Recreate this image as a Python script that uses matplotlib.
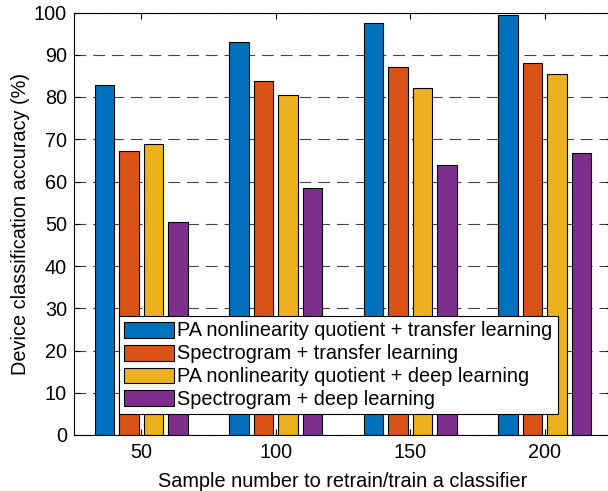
import matplotlib.pyplot as plt
import numpy as np

plt.rcParams['font.family'] = ['Liberation Sans', 'DejaVu Sans']
plt.rcParams['lines.scale_dashes'] = False

# Accuracy (%) for each training-set size
sample_numbers = [50, 100, 150, 200]
pa_transfer = [82.8, 92.9, 97.5, 99.4]
spec_transfer = [67.2, 83.7, 87.1, 88.0]
pa_deep = [68.8, 80.5, 82.1, 85.4]
spec_deep = [50.4, 58.4, 63.9, 66.7]

series = [pa_transfer, spec_transfer, pa_deep, spec_deep]
labels = ['PA nonlinearity quotient + transfer learning',
          'Spectrogram + transfer learning',
          'PA nonlinearity quotient + deep learning',
          'Spectrogram + deep learning']
colors = ['#0072BD', '#D95319', '#EDB120', '#7E2F8E']

fs = 14.3

fig = plt.figure(figsize=(6.08, 4.91), dpi=100)
ax = fig.add_axes([74 / 608, 56 / 491, 538 / 608, 422.5 / 491])

x = np.array(sample_numbers, dtype=float)
offsets = [-13.6, -4.6, 4.6, 13.6]
for vals, off, c, lab in zip(series, offsets, colors, labels):
    ax.bar(x + off, vals, width=7.2, color=c, edgecolor='black',
           linewidth=0.8, label=lab, zorder=2)

ax.set_xlim(25, 225)
ax.set_ylim(0, 100)
ax.set_xticks(sample_numbers)
ax.set_yticks(np.arange(0, 101, 10))
ax.tick_params(direction='in', length=4, width=0.8, labelsize=fs,
               top=True, right=True, pad=5, colors='black')
ax.tick_params(axis='x', pad=6)
ax.yaxis.grid(True, color='#444444', linewidth=0.8, dashes=(8.5, 5), zorder=1)
ax.set_axisbelow(True)
for s in ax.spines.values():
    s.set_linewidth(0.8)

ax.set_xlabel('Sample number to retrain/train a classifier', fontsize=fs, labelpad=7)
ax.set_ylabel('Device classification accuracy (%)', fontsize=fs, labelpad=3)

leg = ax.legend(loc='lower left', bbox_to_anchor=(0.0842, 0.049),
                borderaxespad=0, fontsize=fs, fancybox=False, framealpha=1,
                edgecolor='black', handlelength=2.5, handleheight=0.86,
                handletextpad=0.18, labelspacing=0.2, borderpad=0.25)
leg.get_frame().set_linewidth(0.8)

fig.savefig('out.png', dpi=100)
